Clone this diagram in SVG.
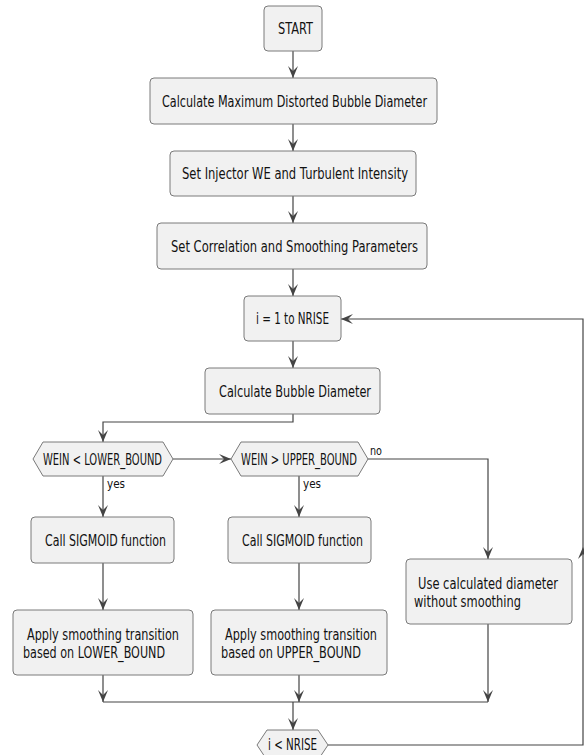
<svg xmlns="http://www.w3.org/2000/svg" width="584" height="755" viewBox="0 0 584 755">
<style>
.box{fill:#F1F1F1;stroke:#7a7a7a;stroke-width:1}
.t{font-family:"DejaVu Sans",sans-serif;font-size:16px;fill:#111}
.l{font-family:"DejaVu Sans",sans-serif;font-size:12px;fill:#111}
.c{fill:none;stroke:#444;stroke-width:1.2}
</style>
<defs>
<marker id="a" viewBox="0 0 12 10" refX="12" refY="5" markerWidth="12" markerHeight="10" markerUnits="userSpaceOnUse" orient="auto">
<path d="M0,0 L12,5 L0,10 L5,5 Z" fill="#444"/>
</marker>
</defs>
<rect width="584" height="755" fill="#fff"/>
<g id="connectors">
<path class="c" d="M293,51 V78" marker-end="url(#a)"/>
<path class="c" d="M293,124 V151" marker-end="url(#a)"/>
<path class="c" d="M293,196 V223" marker-end="url(#a)"/>
<path class="c" d="M293,269 V296" marker-end="url(#a)"/>
<path class="c" d="M293,341 V368" marker-end="url(#a)"/>
<path class="c" d="M293,414 V422 H103 V442" marker-end="url(#a)"/>
<path class="c" d="M173,459 H231" marker-end="url(#a)"/>
<path class="c" d="M103,476 V517" marker-end="url(#a)"/>
<path class="c" d="M103,563 V610" marker-end="url(#a)"/>
<path class="c" d="M299,476 V517" marker-end="url(#a)"/>
<path class="c" d="M299,563 V610" marker-end="url(#a)"/>
<path class="c" d="M368,459 H488 V559" marker-end="url(#a)"/>
<path class="c" d="M103,675 V702" marker-end="url(#a)"/>
<path class="c" d="M299,675 V702" marker-end="url(#a)"/>
<path class="c" d="M488,624 V702" marker-end="url(#a)"/>
<path class="c" d="M103,702 H488"/>
<path class="c" d="M293,702 V730" marker-end="url(#a)"/>
<path class="c" d="M328,745 H583 V547" marker-end="url(#a)"/>
<path class="c" d="M583,547 V319 H341" marker-end="url(#a)"/>
<text class="l" x="107" y="488" textLength="18" lengthAdjust="spacingAndGlyphs">yes</text>
<text class="l" x="303" y="488" textLength="18" lengthAdjust="spacingAndGlyphs">yes</text>
<text class="l" x="370" y="455" textLength="12" lengthAdjust="spacingAndGlyphs">no</text>
</g>
<g id="start">
<rect class="box" x="264" y="6" width="58" height="45" rx="4"/>
<text class="t" x="278" y="34" textLength="35" lengthAdjust="spacingAndGlyphs">START</text>
</g>
<g id="calc-max">
<rect class="box" x="150" y="78" width="287" height="46" rx="4"/>
<text class="t" x="162" y="107" textLength="265" lengthAdjust="spacingAndGlyphs">Calculate Maximum Distorted Bubble Diameter</text>
</g>
<g id="set-injector">
<rect class="box" x="170" y="151" width="246" height="45" rx="4"/>
<text class="t" x="182" y="179" textLength="226" lengthAdjust="spacingAndGlyphs">Set Injector WE and Turbulent Intensity</text>
</g>
<g id="set-corr">
<rect class="box" x="157" y="223" width="270" height="46" rx="4"/>
<text class="t" x="171" y="252" textLength="247" lengthAdjust="spacingAndGlyphs">Set Correlation and Smoothing Parameters</text>
</g>
<g id="loop-start">
<rect class="box" x="244" y="296" width="97" height="45" rx="4"/>
<text class="t" x="256" y="324" textLength="73" lengthAdjust="spacingAndGlyphs">i = 1 to NRISE</text>
</g>
<g id="calc-bubble">
<rect class="box" x="205" y="368" width="175" height="46" rx="4"/>
<text class="t" x="219" y="397" textLength="152" lengthAdjust="spacingAndGlyphs">Calculate Bubble Diameter</text>
</g>
<g id="dec-lower">
<polygon class="box" points="33,459 43,442 163,442 173,459 163,476 43,476"/>
<text class="t" x="43" y="465" textLength="119" lengthAdjust="spacingAndGlyphs">WEIN &lt; LOWER_BOUND</text>
</g>
<g id="dec-upper">
<polygon class="box" points="231,459 241,442 358,442 368,459 358,476 241,476"/>
<text class="t" x="241" y="465" textLength="116" lengthAdjust="spacingAndGlyphs">WEIN &gt; UPPER_BOUND</text>
</g>
<g id="sigmoid-lower">
<rect class="box" x="31" y="517" width="143" height="46" rx="4"/>
<text class="t" x="45" y="546" textLength="121" lengthAdjust="spacingAndGlyphs">Call SIGMOID function</text>
</g>
<g id="sigmoid-upper">
<rect class="box" x="228" y="517" width="143" height="46" rx="4"/>
<text class="t" x="242" y="546" textLength="121" lengthAdjust="spacingAndGlyphs">Call SIGMOID function</text>
</g>
<g id="smooth-lower">
<rect class="box" x="13" y="610" width="180" height="65" rx="4"/>
<text class="t" x="27" y="640" textLength="152" lengthAdjust="spacingAndGlyphs">Apply smoothing transition</text>
<text class="t" x="23" y="658" textLength="142" lengthAdjust="spacingAndGlyphs">based on LOWER_BOUND</text>
</g>
<g id="smooth-upper">
<rect class="box" x="211" y="610" width="176" height="65" rx="4"/>
<text class="t" x="225" y="640" textLength="152" lengthAdjust="spacingAndGlyphs">Apply smoothing transition</text>
<text class="t" x="221" y="658" textLength="140" lengthAdjust="spacingAndGlyphs">based on UPPER_BOUND</text>
</g>
<g id="no-smooth">
<rect class="box" x="406" y="559" width="166" height="65" rx="4"/>
<text class="t" x="418" y="589" textLength="140" lengthAdjust="spacingAndGlyphs">Use calculated diameter</text>
<text class="t" x="414" y="607" textLength="107" lengthAdjust="spacingAndGlyphs">without smoothing</text>
</g>
<g id="loop-end">
<polygon class="box" points="257,745 267,730 318,730 328,745 318,760 267,760"/>
<text class="t" x="268" y="750" textLength="49" lengthAdjust="spacingAndGlyphs">i &lt; NRISE</text>
</g>
</svg>
